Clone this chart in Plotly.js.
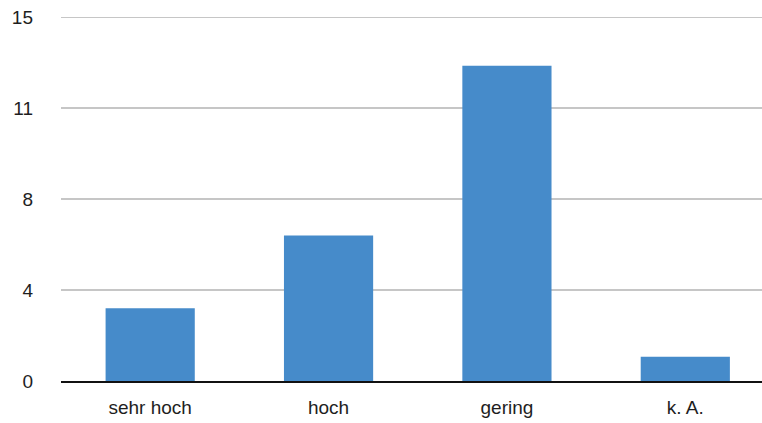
<!DOCTYPE html>
<html>
<head>
<meta charset="utf-8">
<script src="https://cdn.plot.ly/plotly-3.0.1.min.js"></script>
<style>html,body{margin:0;padding:0;background:#fff;}#chart{width:762px;height:423px;}</style>
</head>
<body>
<div id="chart"></div>
<script>
const categories = ["sehr hoch", "hoch", "gering", "k. A."];
const values = [3, 6, 13, 1];
const yTickVals = [0, 3.75, 7.5, 11.25, 15];
const yTickText = ["0", "4", "8", "11", "15"];

const trace = {
  type: "bar",
  x: categories,
  y: values,
  width: 0.5,
  marker: { color: "#468bca" },
  hoverinfo: "x+y"
};

const layout = {
  width: 762,
  height: 423,
  margin: { l: 61, r: 0, t: 10, b: 42 },
  paper_bgcolor: "#ffffff",
  plot_bgcolor: "#ffffff",
  showlegend: false,
  font: { family: "Liberation Sans, Arial, sans-serif", size: 19, color: "#1e1e1e" },
  xaxis: {
    type: "category",
    range: [-0.5, 3.43],
    showgrid: false,
    showline: true,
    linecolor: "#111111",
    linewidth: 1.5,
    ticks: "",
    tickfont: { size: 19, color: "#1e1e1e" },
    ticklabelstandoff: 9,
    zeroline: false
  },
  yaxis: {
    range: [0, 15.3],
    tickmode: "array",
    tickvals: yTickVals,
    ticktext: yTickText,
    showgrid: true,
    gridcolor: "#c6c6c6",
    gridwidth: 1.5,
    zeroline: false,
    showline: false,
    ticks: "",
    tickfont: { size: 19, color: "#1e1e1e" },
    ticklabelstandoff: 27
  }
};

Plotly.newPlot("chart", [trace], layout, { displayModeBar: false, staticPlot: true });
</script>
</body>
</html>
